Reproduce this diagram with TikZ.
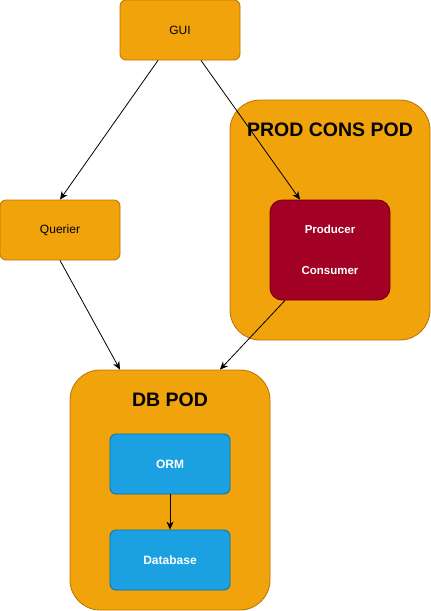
\documentclass[tikz,border=0pt]{standalone}
\usepackage{fontspec}
\setmainfont{Liberation Sans}
\usetikzlibrary{arrows.meta}
\definecolor{orfill}{HTML}{F0A30A}
\definecolor{orline}{HTML}{BD7000}
\definecolor{redfill}{HTML}{A20025}
\definecolor{redline}{HTML}{6F0000}
\definecolor{bluefill}{HTML}{1BA1E2}
\definecolor{blueline}{HTML}{006EAF}
\tikzset{
  box/.style={draw=orline, fill=orfill, rounded corners=6pt, minimum width=120pt, minimum height=60pt, inner sep=0pt, line width=0.8pt, font=\fontsize{12}{14}\selectfont},
  pod/.style={draw=orline, fill=orfill, rounded corners=30pt, minimum width=200pt, minimum height=240pt, inner sep=0pt, line width=0.8pt},
  podtitle/.style={font=\fontsize{19.5}{22}\selectfont\bfseries, inner sep=0pt},
  bluebox/.style={draw=blueline, fill=bluefill, rounded corners=6pt, minimum width=120pt, minimum height=60pt, inner sep=0pt, line width=0.8pt, text=white, font=\fontsize{12}{14}\selectfont\bfseries},
  redbox/.style={draw=redline, fill=redfill, rounded corners=12pt, minimum width=120pt, minimum height=100pt, inner sep=0pt, line width=0.8pt},
  redtext/.style={text=white, font=\fontsize{11.5}{14}\selectfont\bfseries, inner sep=0pt},
  conn/.style={draw=black, line width=0.8pt, -{Stealth[length=8pt,width=7pt,inset=2.5pt]}}
}
\begin{document}
\begin{tikzpicture}[x=1pt,y=-1pt]
\useasboundingbox (0,0) rectangle (431,611);
\node[box] (gui) at (180,30) {GUI};
\node[box] (querier) at (60,230) {Querier};
\node[pod] (pcpod) at (330,220) {};
\node[podtitle] (pctitle) at (330,130) {PROD CONS POD};
\node[redbox] (prod) at (330,250) {};
\node[redtext] (prodtxt) at (330,229) {Producer};
\node[redtext] (constxt) at (330,271) {Consumer};
\node[pod] (dbpod) at (170,490) {};
\node[podtitle] (dbtitle) at (170,400) {DB POD};
\node[bluebox] (orm) at (170,464) {ORM};
\node[bluebox] (db) at (170,560) {Database};
\draw[conn] ([xshift=-22pt]gui.south) -- (querier.north);
\draw[conn] ([xshift=21pt]gui.south) -- ([xshift=-30pt]prod.north);
\draw[conn] (querier.south) -- ([xshift=-50pt]dbpod.north);
\draw[conn] ([xshift=-45pt]prod.south) -- ([xshift=50pt]dbpod.north);
\draw[conn] (orm.south) -- (db.north);
\end{tikzpicture}
\end{document}
